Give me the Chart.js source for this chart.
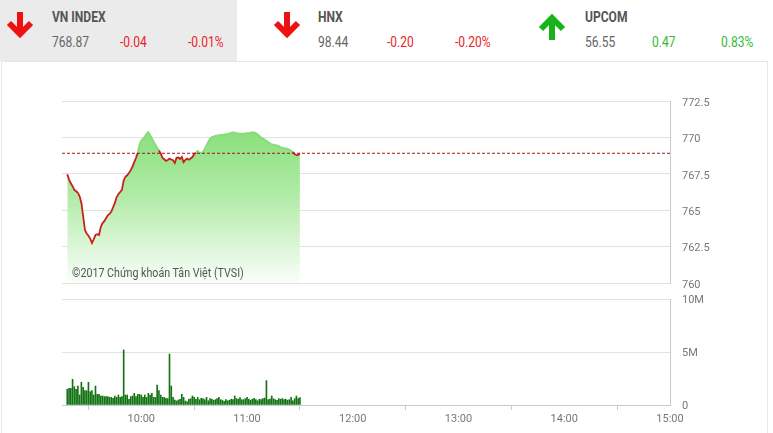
<!DOCTYPE html>
<html>
<head>
<meta charset="utf-8">
<script src="https://cdn.jsdelivr.net/npm/chart.js@4.4.1/dist/chart.umd.min.js"></script>
<style>
  html, body { margin:0; padding:0; background:#fff; }
  body { width:773px; height:433px; position:relative; overflow:hidden; font-family: Roboto, "Noto Sans", sans-serif; }
  .panel-bg { position:absolute; left:0; top:0; width:237px; height:61px; background:#ebebeb; }
  .box { position:absolute; left:1px; top:61px; width:767px; height:380px; border:1px solid #e6e6e6; box-sizing:border-box; }
  .t { position:absolute; font-size:14px; line-height:14px; white-space:nowrap; transform:scaleX(0.86); transform-origin:0 0; }
  .title { font-weight:bold; color:#555; top:10px; }
  .val { color:#666; top:35px; }
  .red { color:#e8242a; top:35px; }
  .green { color:#35b935; top:35px; }
  svg.arrow { position:absolute; }
  canvas { position:absolute; left:0; }
  .copy { position:absolute; left:72px; top:267px; font-size:12px; line-height:12px; color:#555; white-space:nowrap; transform:scaleX(0.89); transform-origin:0 0; }
</style>
</head>
<body>
<div class="panel-bg"></div>
<div class="box"></div>

<svg class="arrow" style="left:6px;top:12px" width="28" height="27" viewBox="0 0 28 27">
  <line x1="14" y1="0" x2="14" y2="21" stroke="#ee1111" stroke-width="6"/>
  <polyline points="3,11 14,22 25,11" fill="none" stroke="#ee1111" stroke-width="6" stroke-linejoin="miter"/>
</svg>
<div class="t title" style="left:52px">VN INDEX</div>
<div class="t val" style="left:52px">768.87</div>
<div class="t red" style="left:120px">-0.04</div>
<div class="t red" style="left:188px">-0.01%</div>

<svg class="arrow" style="left:273px;top:12px" width="28" height="27" viewBox="0 0 28 27">
  <line x1="14" y1="0" x2="14" y2="21" stroke="#ee1111" stroke-width="6"/>
  <polyline points="3,11 14,22 25,11" fill="none" stroke="#ee1111" stroke-width="6" stroke-linejoin="miter"/>
</svg>
<div class="t title" style="left:318px">HNX</div>
<div class="t val" style="left:318px">98.44</div>
<div class="t red" style="left:387px">-0.20</div>
<div class="t red" style="left:455px">-0.20%</div>

<svg class="arrow" style="left:538px;top:13px" width="28" height="27" viewBox="0 0 28 27">
  <line x1="14" y1="6" x2="14" y2="27" stroke="#19b319" stroke-width="6"/>
  <polyline points="3,16 14,5 25,16" fill="none" stroke="#19b319" stroke-width="6" stroke-linejoin="miter"/>
</svg>
<div class="t title" style="left:585px">UPCOM</div>
<div class="t val" style="left:585px">56.55</div>
<div class="t green" style="left:652px">0.47</div>
<div class="t green" style="left:721px">0.83%</div>

<canvas id="price" width="773" height="200" style="top:90px"></canvas>
<canvas id="vol" width="773" height="145" style="top:288px"></canvas>
<div class="copy">©2017 Chứng khoán Tân Việt (TVSI)</div>

<script>
// ---- data ----
const refClose = 768.91;            // previous close (reference line)
const axisStartMinute = 9 * 60 + 15; // 9:15
const axisEndMinute = 15 * 60;       // 15:00
const hourTicks = [600, 660, 720, 780, 840, 900];
const priceTickValues = [760, 762.5, 765, 767.5, 770, 772.5];
const volumeTickValues = [0, 5, 10];
const dataStartMinute = 9 * 60 + 18; // first point 9:18, one point per minute until 11:30

const priceValues = [
  767.47, 767.10, 766.85, 766.65, 766.40, 766.30, 766.20, 765.95, 765.50, 764.60,
  763.65, 763.40, 763.25, 763.05, 762.75, 763.00, 763.30, 763.35, 763.30, 763.85,
  764.10, 764.25, 764.45, 764.65, 764.75, 764.90, 765.20, 765.50, 765.90, 766.10,
  766.25, 766.40, 767.05, 767.30, 767.40, 767.55, 767.75, 768.00, 768.30, 768.60,
  768.95, 769.50, 769.80, 769.90, 770.05, 770.25, 770.36, 770.15, 769.95, 769.70,
  769.50, 769.30, 769.10, 768.90, 768.60, 768.50, 768.38, 768.45, 768.55, 768.48,
  768.43, 768.24, 768.60, 768.62, 768.52, 768.65, 768.30, 768.45, 768.55, 768.47,
  768.55, 768.65, 768.85, 768.95, 769.07, 768.93, 768.95, 769.00, 769.20, 769.45,
  769.70, 769.91, 770.00, 770.05, 770.10, 770.14, 770.12, 770.18, 770.16, 770.20,
  770.22, 770.25, 770.28, 770.32, 770.36, 770.33, 770.30, 770.28, 770.26, 770.25,
  770.24, 770.28, 770.30, 770.30, 770.32, 770.34, 770.35, 770.30, 770.20, 770.10,
  770.00, 769.92, 769.85, 769.75, 769.68, 769.60, 769.52, 769.50, 769.47, 769.45,
  769.40, 769.32, 769.30, 769.27, 769.25, 769.22, 769.15, 769.08, 769.00, 768.85,
  768.78, 768.80, 768.87
];

// volume in millions of shares, one bar per minute
const volumeValues = [
  1.48, 1.57, 1.57, 2.42, 1.73, 1.48, 1.79, 0.94, 2.14, 1.67,
  1.35, 1.35, 2.14, 1.26, 1.35, 0.94, 1.79, 1.00, 1.00, 0.85,
  0.85, 0.79, 0.79, 0.79, 0.72, 0.72, 0.63, 0.85, 0.72, 0.94,
  0.72, 0.79, 5.19, 0.94, 0.94, 0.53, 0.79, 0.85, 1.10, 0.79,
  1.00, 1.00, 0.94, 0.72, 0.94, 0.72, 1.10, 0.94, 1.10, 0.72,
  0.72, 1.89, 1.35, 0.94, 0.72, 0.72, 0.63, 0.60, 4.81, 1.79,
  0.72, 0.47, 0.38, 0.47, 0.53, 1.00, 0.72, 0.38, 0.31, 0.53,
  0.60, 0.85, 0.72, 0.53, 0.72, 0.50, 0.63, 0.60, 0.50, 0.72,
  0.40, 0.60, 0.55, 0.45, 0.50, 0.60, 0.72, 0.50, 0.45, 0.35,
  0.50, 0.40, 0.45, 0.55, 0.50, 0.85, 0.60, 0.55, 0.70, 0.50,
  0.50, 0.60, 0.72, 0.55, 0.45, 0.55, 0.62, 0.50, 0.40, 0.55,
  0.50, 0.60, 0.65, 2.30, 0.50, 0.55, 0.85, 0.60, 0.50, 0.45,
  0.60, 0.55, 0.60, 0.50, 0.55, 0.45, 0.50, 0.72, 0.40, 0.60,
  0.85, 0.60, 0.70
];

const minutes = priceValues.map((_, i) => dataStartMinute + i);
// ---- end data ----

const PLOT_LEFT = 62, PLOT_RIGHT = 670, CANVAS_W = 773;
const gridColor = '#e2e2e2';
const borderColor = '#c4cad6';
const tickFont = { family: 'Roboto', size: 11 };
const tickColor = '#777';

function fmtTime(v) {
  const h = Math.floor(v / 60), m = v % 60;
  return h + ':' + String(m).padStart(2, '0');
}
function fixY(scale) {
  scale.width = CANVAS_W - PLOT_RIGHT;
  scale.paddingTop = 6;
  scale.paddingBottom = 6;
}

const xCommon = {
  type: 'linear', min: axisStartMinute, max: axisEndMinute,
  afterBuildTicks: s => { s.ticks = hourTicks.map(v => ({ value: v })); }
};

const pricePoints = minutes.map((m, i) => ({ x: m, y: priceValues[i] }));

new Chart(document.getElementById('price'), {
  type: 'line',
  data: {
    datasets: [
      {
        data: [{ x: axisStartMinute, y: refClose }, { x: axisEndMinute, y: refClose }],
        borderColor: '#a31515', borderWidth: 1, borderDash: [3, 2],
        pointRadius: 0, fill: false, order: 0
      },
      {
        data: pricePoints,
        borderWidth: 1.8,
        borderColor: '#c8211b',
        segment: {
          borderColor: c => (c.p0.parsed.y >= refClose && c.p1.parsed.y >= refClose) ? '#86dc78' : '#c8211b'
        },
        pointRadius: 0, tension: 0, fill: false, order: 1
      },
      {
        data: pricePoints,
        borderWidth: 0,
        pointRadius: 0, tension: 0, fill: 'start', order: 2,
        backgroundColor: c => {
          const ca = c.chart.chartArea;
          if (!ca) return 'rgba(140,224,125,0.6)';
          const g = c.chart.ctx.createLinearGradient(0, ca.top + 25, 0, ca.bottom);
          g.addColorStop(0, '#86df78');
          g.addColorStop(0.45, '#b2eba8');
          g.addColorStop(1, '#fbfefb');
          return g;
        }
      }
    ]
  },
  options: {
    responsive: false, animation: false, devicePixelRatio: 1,
    layout: { padding: { left: PLOT_LEFT, top: 11, bottom: 7, right: 0 } },
    plugins: { legend: { display: false }, tooltip: { enabled: false } },
    scales: {
      x: Object.assign({}, xCommon, { display: false }),
      y: {
        position: 'right', min: 760, max: 772.5,
        afterBuildTicks: s => { s.ticks = priceTickValues.map(v => ({ value: v })); },
        afterFit: fixY,
        grid: { color: gridColor, drawTicks: false },
        border: { display: true, color: borderColor },
        ticks: { padding: 12, labelOffset: 2, color: tickColor, font: tickFont, callback: v => String(v) }
      }
    }
  }
});

new Chart(document.getElementById('vol'), {
  type: 'bar',
  data: {
    datasets: [{
      data: minutes.map((m, i) => ({ x: m, y: volumeValues[i] })),
      backgroundColor: '#137313', barThickness: 1, borderWidth: 0
    }]
  },
  options: {
    responsive: false, animation: false, devicePixelRatio: 1,
    layout: { padding: { left: PLOT_LEFT, top: 11, bottom: 0, right: 0 } },
    plugins: { legend: { display: false }, tooltip: { enabled: false } },
    scales: {
      x: Object.assign({}, xCommon, {
        offset: false,
        afterFit: s => { s.height = 28; },
        grid: { drawOnChartArea: false, drawTicks: true, tickLength: 5, color: borderColor },
        border: { display: true, color: borderColor },
        ticks: { padding: 3, color: tickColor, font: tickFont, maxRotation: 0, autoSkip: false, callback: v => fmtTime(v) }
      }),
      y: {
        position: 'right', min: 0, max: 10,
        afterBuildTicks: s => { s.ticks = volumeTickValues.map(v => ({ value: v })); },
        afterFit: fixY,
        grid: { color: gridColor, drawTicks: false },
        border: { display: true, color: borderColor },
        ticks: { padding: 12, labelOffset: 1, color: tickColor, font: tickFont, callback: v => v === 0 ? '0' : v + 'M' }
      }
    }
  }
});
</script>
</body>
</html>
